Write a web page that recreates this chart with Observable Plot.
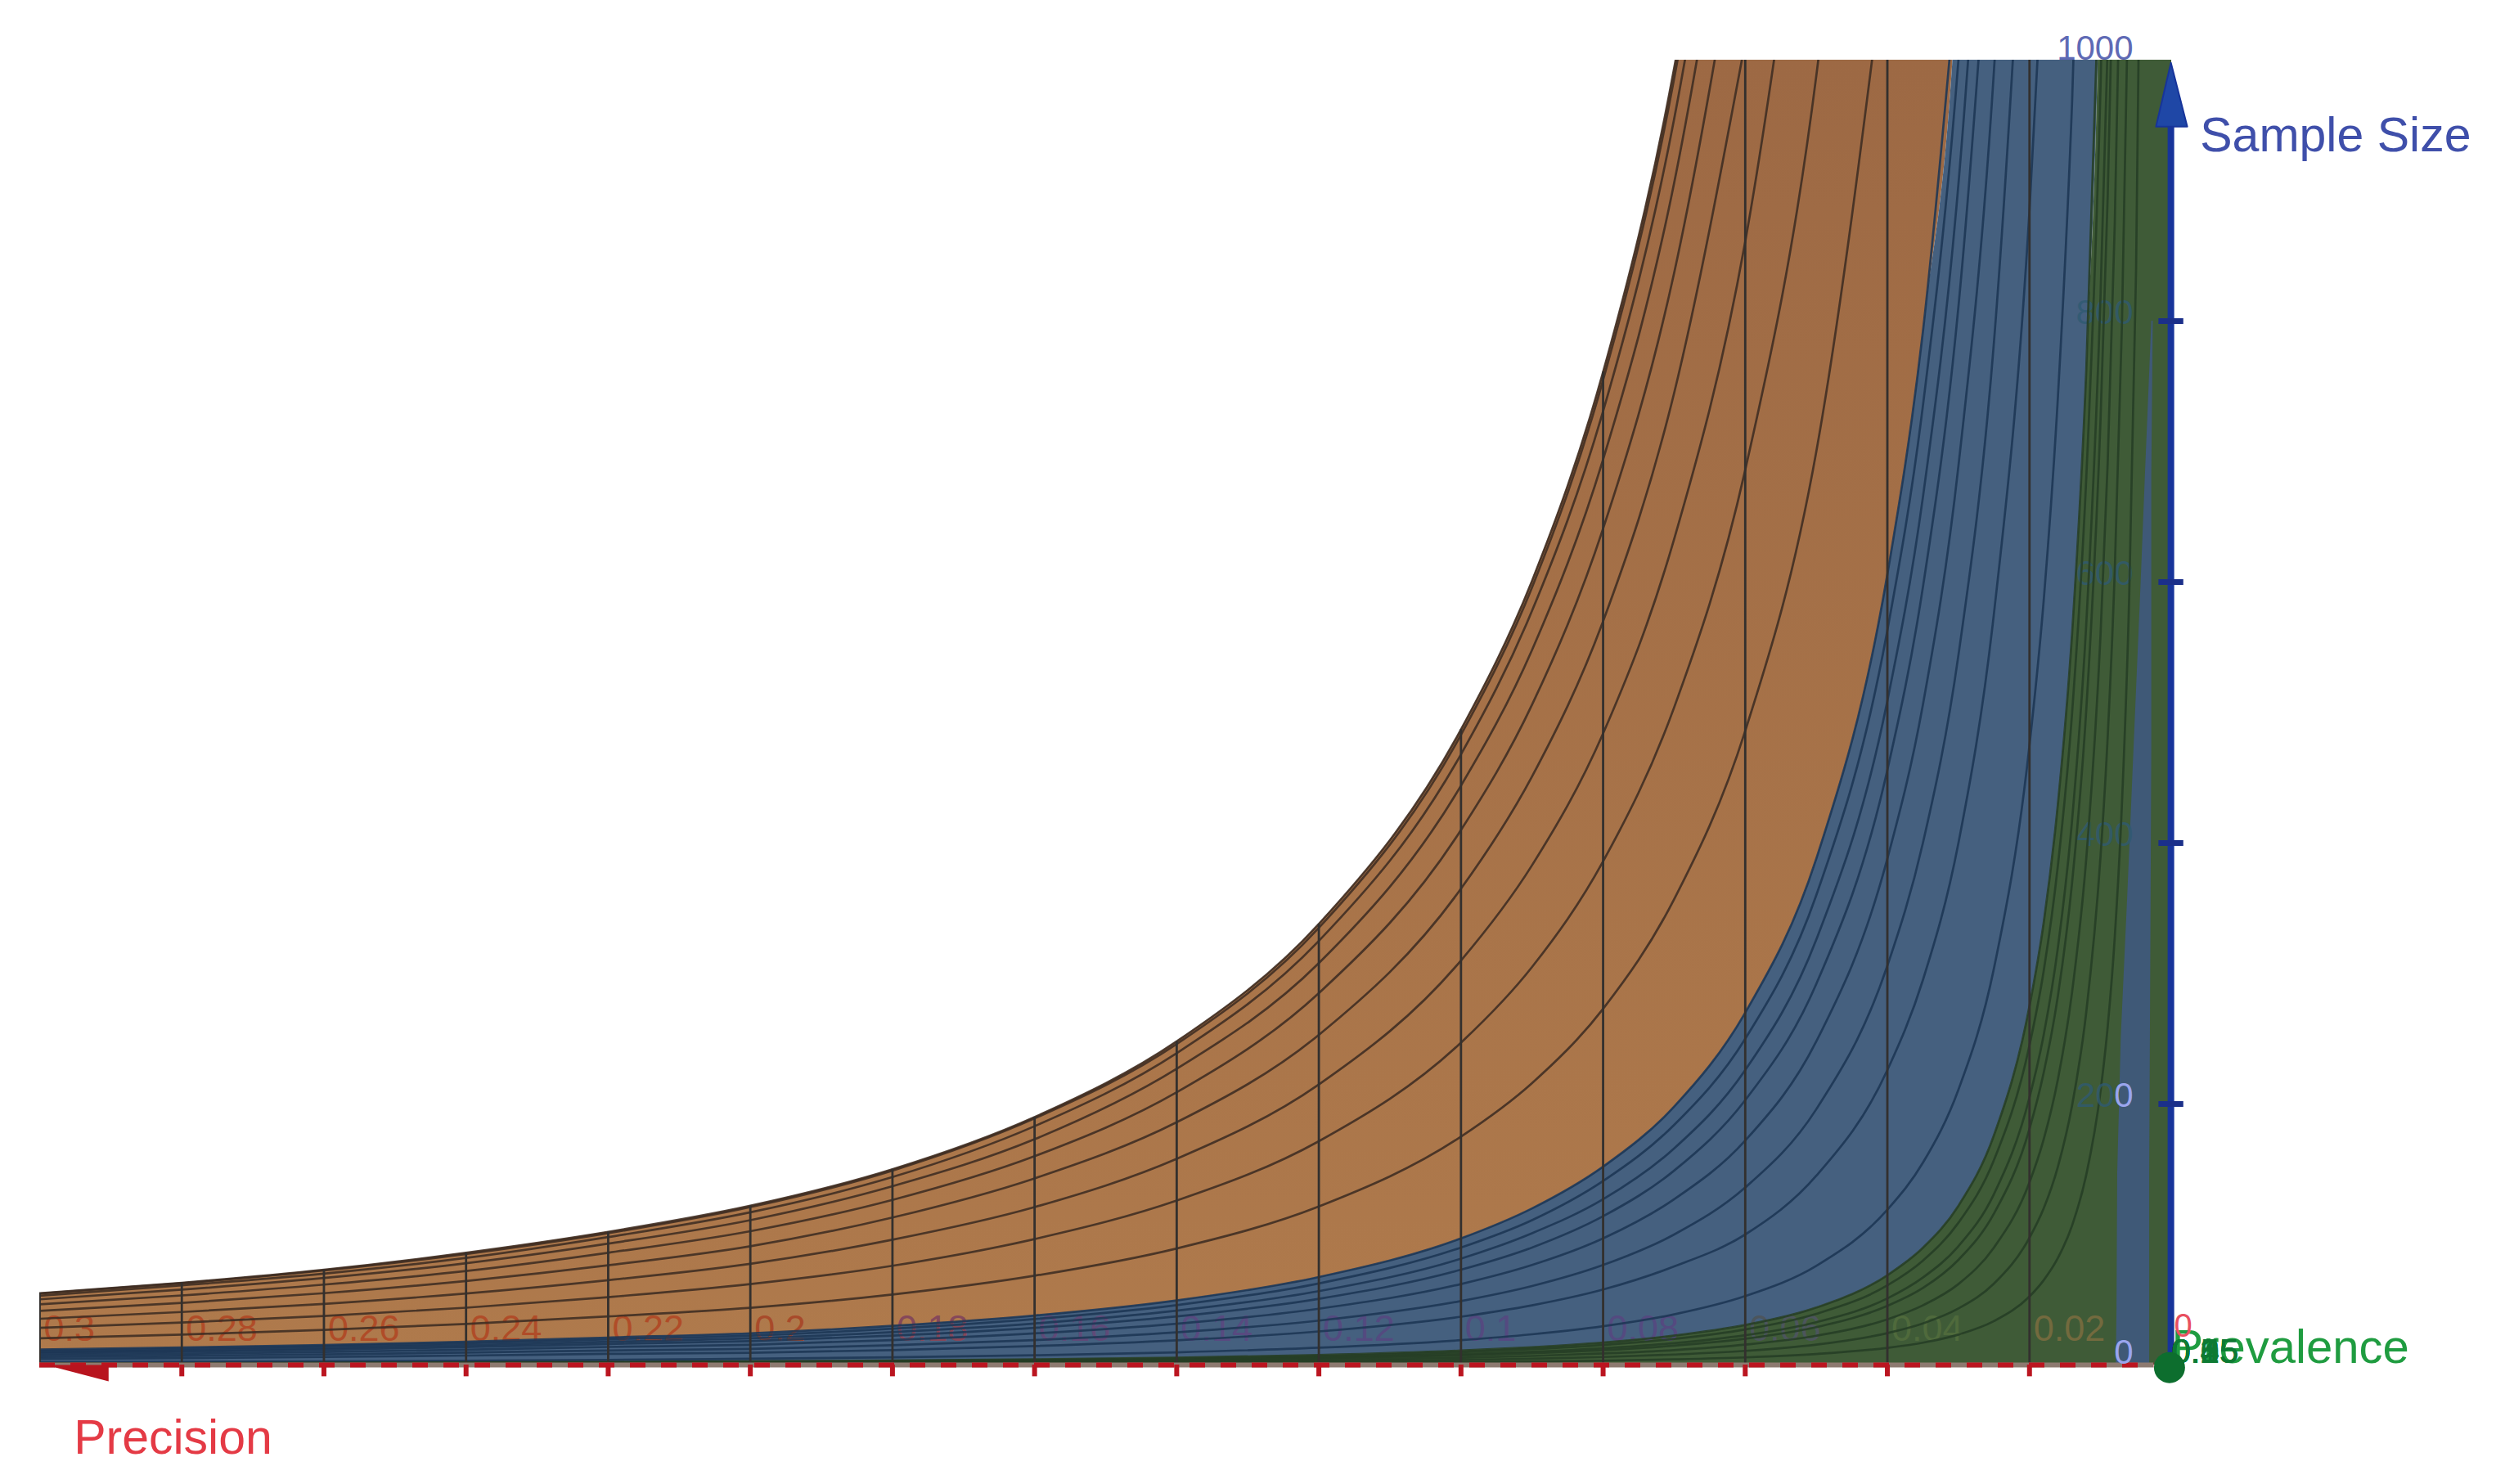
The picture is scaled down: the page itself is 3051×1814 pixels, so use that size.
<!DOCTYPE html>
<html>
<head>
<meta charset="utf-8">
<script src="https://cdn.jsdelivr.net/npm/d3@7"></script>
<script src="https://cdn.jsdelivr.net/npm/@observablehq/plot@0.6"></script>
<style>html,body{margin:0;padding:0;background:#fff}svg{display:block;background:#fff}</style>
</head>
<body>
<div id="chart"></div>
<script>
// Precision values at which each sample-size curve was read
const precisionGrid = [.30,.28,.26,.24,.22,.20,.18,.16,.14,.12,.10,.09,.08,.07,.06,.05,.04,.035,.03,.025,.02,.018,.016,.014,.012,.01,.009,.008,.007,.006,.005,.004,.003,.002,.001,0];

// Brown part of the surface (highest prevalence first)
const orangeTop = [55,63,73,86,102,122,150,190,248,338,487,601,761,994,1353];
const orange2 = [54.7,62.6,72.4,85,101,121,149,189,246,335,483,596,755,986,1342];
const orange3 = [53,61,70,82,98,117,144,183,239,325,468,578,731,955,1300];
const orange4 = [50.3,57.7,66.7,78,93,111,137,173,227,308,444,548,694,906,1233];
const orange5 = [46.5,53.3,61.6,72,86,102.5,126.5,160,209,285,410,506,641,837,1139];
const orange6 = [41.5,47.6,55,64.4,76.4,91,113,143,186,253,365,451,570,745,1014];
const orange7 = [35.4,40.6,46.8,54.8,65,77.5,96,121,158,215,310,383,484,633,861,1240];
const orange8 = [28.4,32.5,37.5,43.9,52,62,76,96.5,126,171.5,247,305,386,504,686,988,1544];
const orange9 = [20.4,23.3,26.9,31.4,37.2,43.8,54,68.4,89.3,121.5,175,216,273,357,486,700,1094];
// Boundary between brown and blue
const orangeBlue = [11.8,13.4,15.3,17.8,21,24.3,30,37.9,49.5,67.4,97,120,152,198,270,388,606,792,1078];
// Blue part
const blue2 = [10.8,12.3,14.3,16.6,19.6,22.5,27.8,35.2,45.9,62.5,90,111,141,184,250,360,563,735,1000,1440];
const blue3 = [9.8,11.1,12.9,15.1,17.8,20.4,25.2,31.8,41.6,56.6,81.5,101,127,166,226,326,509,665,905,1304];
const blue4 = [8.8,10.1,11.7,13.7,16.1,18.3,22.5,28.5,37.2,50.7,73,90,114,149,203,292,456,596,811,1168];
const blue5 = [7.5,8.6,10,11.7,13.8,15.5,19.1,24.2,31.6,43.1,62,76.6,97,127,172,248,388,506,689,992,1550];
const blue6 = [6.1,7,8.1,9.5,11.1,12.3,15.1,19.1,25,34,49,60.5,76.6,100,136,196,306,400,544,784,1225];
const blue7 = [4.6,5.3,6.1,7.2,8.5,9.3,11.4,14.5,18.9,25.7,37,45.7,57.8,75.5,100,145,226,295,400,576,885,1090];
const blue8 = [2.1,2.4,2.8,3.3,3.9,4.8,5.9,7.4,9.7,13.2,19,23.5,29.7,38.8,52.8,76,119,155,211,304,475,586,742,969,1319];
// Boundary between blue and green
const blueGreen = [1.2,1.4,1.6,1.9,2.3,2.8,3.4,4.3,5.6,7.6,11,13.6,17.2,22.5,30.6,44,68.8,89.8,122,176,275,339,430,561,764,1100];
// Green part
const green2 = [1.1,1.3,1.5,1.7,2,2.5,3,3.8,5,6.8,9.8,12.1,15.3,20,27.2,39.2,61,80,109,157,245,302,383,500,681,980,1210];
const green3 = [.9,1,1.2,1.4,1.7,2.1,2.5,3.2,4.2,5.7,8.2,10.1,12.8,16.7,22.8,32.8,51,67,91,131,205,253,320,418,569,820,1012];
const green4 = [.8,.9,1.1,1.3,1.5,1.8,2.2,2.8,3.7,5,7.3,9,11.3,14.8,20.1,29,45.3,59,80.6,116,181,224,283,370,503,725,895,1133];
const green5 = [.6,.7,.8,1,1.2,1.4,1.7,2.2,2.9,3.9,5.6,6.9,8.8,11.4,15.6,22.4,35,45.7,62,90,140,173,219,286,389,560,691,875,1143];
const green6 = [.4,.5,.6,.7,.8,1,1.2,1.5,2,2.7,3.9,4.8,6.1,8,10.8,15.6,24.4,31.8,43.3,62.4,97.5,120,152,199,271,390,481,609,796,1083];
const green7 = [.2,.3,.3,.4,.4,.5,.6,.8,1.1,1.5,2.1,2.6,3.3,4.3,5.8,8.4,13.1,17.1,23.3,33.6,52.5,65,82,107,146,210,259,328,429,583,840,1312];

// Blue stripe near zero precision
const stripSize = [0,43,147,251,358,473,600,682,800];
const stripLeft = [.0078,.0077,.0076,.0071,.0062,.0053,.0043,.0037,.0028];
const stripRight = [.0031,.0031,.0031,.003,.0029,.0028,.0028,.0028,.0026];

// Axis labels
const precisionTicks = [.3,.28,.26,.24,.22,.2,.18,.16,.14,.12,.1,.08,.06,.04,.02];
const precisionLabels = ["0.3","0.28","0.26","0.24","0.22","0.2","0.18","0.16","0.14","0.12","0.1","0.08","0.06","0.04","0.02"];
const precisionLabelFill = ["#b04c28","#b04c28","#b04c28","#b04c28","#b04c28","#a84a2a","#85485a","#5f4a78","#584a80","#544a80","#544a80","#544a80","#4c555c","#4f6a3c","#736a3e"];
const sizeTicks = [200,400,600,800];
const prevalenceLabels = ["0.5","0.45","0.4","0.35","0.3","0.25","0.2","0.15","0.1","0.05"];

const font = "Liberation Sans";
const ceiling = 3000; // anything above the 1000 cut-off
const padded = a => precisionGrid.map((_, i) => a[i] ?? ceiling);
const rows = (curves) => curves.flatMap((c, z) => c.map((n, i) => ({x: precisionGrid[i], n, z})));
const band = (hi, lo) => {
  const a = padded(hi), b = lo ? padded(lo) : null;
  return precisionGrid.map((x, i) => ({x, hi: a[i], lo: b ? b[i] : 0}));
};
const surface = (data, fill) => Plot.areaY(data, {x: "x", y1: "lo", y2: "hi", fill, curve: "monotone-x", clip: true});
const mesh = (curves, stroke) => Plot.line(rows(curves), {x: "x", y: "n", z: "z", stroke, strokeWidth: 2.7, strokeOpacity: 0.88, curve: "monotone-x", clip: true});
const topAt = d => Math.min(1000, padded(orangeTop)[precisionGrid.indexOf(d)]);

const strip = stripSize.map((n, i) => ({n, a: stripLeft[i], b: stripRight[i]}));

const chart = Plot.plot({
  width: 3051, height: 1814,
  marginLeft: 48, marginRight: 397, marginTop: 73, marginBottom: 146,
  x: {axis: null, domain: [.3, 0]},
  y: {axis: null, domain: [0, 1000]},
  style: {background: "#fff", overflow: "visible"},
  marks: [
    surface(band(orangeTop, orangeBlue), "url(#brownShade)"),
    surface(band(orangeBlue, blueGreen), "#45607f"),
    surface(band(blueGreen, null), "#3f5b37"),
    Plot.areaX(strip, {y: "n", x1: "a", x2: "b", fill: "#3f5977", clip: true}),
    // tick labels lying behind the surface
    Plot.text(precisionLabels, {x: (d, i) => precisionTicks[i], y: () => 0, text: d => d, dx: 5, dy: -30, textAnchor: "start", lineAnchor: "bottom", fontSize: 45, fontFamily: font, fill: (d, i) => precisionLabelFill[i]}),
    Plot.text(sizeTicks.slice(1), {x: () => .0054, y: d => d, text: d => String(d), textAnchor: "end", lineAnchor: "bottom", fontSize: 42, fontFamily: font, fill: "#2f5a72", fillOpacity: 0.8, dy: 3}),
    mesh([orangeTop, orange2, orange3, orange4, orange5, orange6, orange7, orange8, orange9], "#3d2c22"),
    mesh([orangeBlue, blue2, blue3, blue4, blue5, blue6, blue7, blue8], "#1c3554"),
    mesh([blueGreen, green2, green3, green4, green5, green6, green7], "#263d25"),
    Plot.ruleX(precisionTicks, {x: d => d, y1: () => 0, y2: topAt, stroke: "#33302e", strokeWidth: 2.8, clip: true}),
    // precision axis
    Plot.ruleY([0], {x1: .3, x2: .0025, stroke: "#8d7a70", strokeWidth: 6}),
    Plot.ruleY([0], {x1: .3, x2: .0025, stroke: "#bb1520", strokeWidth: 6, strokeDasharray: "19,19"}),
    Plot.ruleX(precisionTicks.slice(1), {x: d => d, y1: () => 0, y2: () => -9, stroke: "#bb1520", strokeWidth: 6}),
    Plot.line([{x: .2991, n: 0}, {x: .2903, n: 0}, {x: .2903, n: -12.5}, {x: .2991, n: 0}], {x: "x", y: "n", fill: "#b8141e", stroke: "none"}),
    // sample-size axis
    Plot.ruleX([.0001], {x: d => d, y1: () => 0, y2: () => 950, stroke: "#17349a", strokeWidth: 8}),
    Plot.ruleY(sizeTicks, {y: d => d, x1: () => .0018, x2: () => -.0017, stroke: "#1b2f8a", strokeWidth: 7}),
    Plot.line([{x: .0001, n: 998}, {x: .0022, n: 949}, {x: -.0022, n: 949}, {x: .0001, n: 998}], {x: "x", y: "n", fill: "#1f47a6", stroke: "#17349a", strokeWidth: 2}),
    Plot.text(["1000"], {x: () => .0054, y: () => 1000, text: d => d, textAnchor: "end", lineAnchor: "bottom", fontSize: 42, fontFamily: font, fill: "#5f6ab5", dy: -1}),
    Plot.text(["20"], {x: () => .0054, y: () => 200, text: d => d, dx: -23, dy: 3, textAnchor: "end", lineAnchor: "bottom", fontSize: 42, fontFamily: font, fill: "#2f5a72", fillOpacity: 0.8}),
    Plot.text(["0"], {x: () => .0054, y: () => 200, text: d => d, dy: 3, textAnchor: "end", lineAnchor: "bottom", fontSize: 42, fontFamily: font, fill: "#9aa5ee"}),
    Plot.text(["0"], {x: () => .0054, y: () => 0, text: d => d, dy: -2, textAnchor: "end", lineAnchor: "bottom", fontSize: 42, fontFamily: font, fill: "#9aa5ee"}),
    // titles
    Plot.text(["Sample Size"], {x: () => -.004, y: () => 930, text: d => d, textAnchor: "start", lineAnchor: "bottom", fontSize: 59, fontFamily: font, fill: "#3f4faa"}),
    Plot.text(["Precision"], {x: () => .2952, y: () => -68.3, text: d => d, textAnchor: "start", lineAnchor: "bottom", fontSize: 59, fontFamily: font, fill: "#e43a45"}),
    Plot.text(["Prevalence"], {x: () => 0, y: () => 1.3, text: d => d, textAnchor: "start", lineAnchor: "bottom", fontSize: 58, fontFamily: font, fill: "#1f9c40"}),
    // stacked prevalence ticks and the origin
    Plot.text(["0"], {x: () => 0, y: () => 0, text: d => d, dx: 3, dy: -35, textAnchor: "start", lineAnchor: "bottom", fontSize: 40, fontFamily: font, fill: "#e85060"}),
    Plot.text(prevalenceLabels, {x: () => 0, y: () => 1.3, text: d => d, textAnchor: "start", lineAnchor: "bottom", fontSize: 42, fontFamily: font, fill: "#0d7a33"}),
    Plot.dot([0], {x: () => .0003, y: () => -2, r: 19, fill: "#0d6e2e", stroke: "none"})
  ]
});
// Soft vertical shading of the brown part of the surface
const defs = d3.select(chart).insert("defs", ":first-child");
const grad = defs.append("linearGradient").attr("id", "brownShade").attr("gradientUnits", "userSpaceOnUse").attr("x1", 0).attr("x2", 0).attr("y1", 73).attr("y2", 1668);
grad.append("stop").attr("offset", 0).attr("stop-color", "#9d6944");
grad.append("stop").attr("offset", 1).attr("stop-color", "#af7a4c");
document.getElementById("chart").append(chart);
</script>
</body>
</html>
